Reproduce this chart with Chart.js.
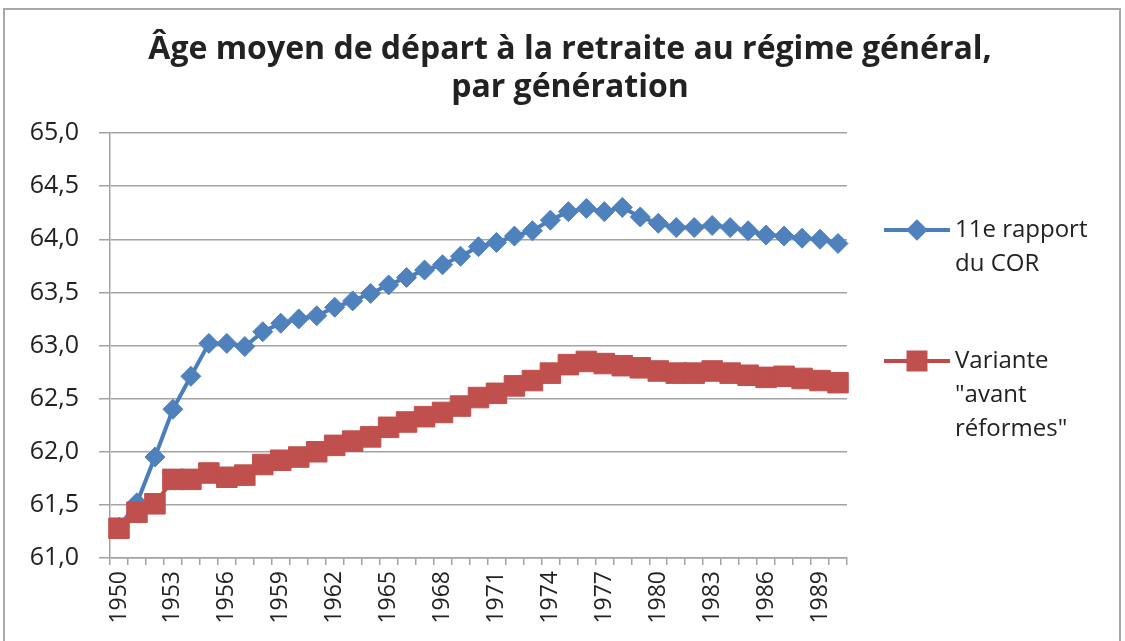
<!DOCTYPE html>
<html>
<head>
<meta charset="utf-8">
<script src="https://cdn.jsdelivr.net/npm/chart.js@4/dist/chart.umd.min.js"></script>
<style>
  html, body { margin:0; padding:0; background:#fff; }
  canvas { display:block; }
</style>
</head>
<body>
<canvas id="ageChart" width="1125" height="641"></canvas>
<script>
// Data
const years = [];
for (let y = 1950; y <= 1990; y++) years.push(String(y));

const corValues = [61.29,61.52,61.95,62.40,62.71,63.02,63.02,62.99,63.13,63.21,
  63.25,63.28,63.36,63.42,63.49,63.57,63.64,63.71,63.76,63.84,
  63.93,63.97,64.03,64.08,64.18,64.26,64.29,64.26,64.30,64.21,
  64.15,64.11,64.11,64.13,64.11,64.08,64.04,64.03,64.01,64.00,63.96];

const avantValues = [61.28,61.43,61.51,61.74,61.74,61.80,61.76,61.78,61.88,61.92,
  61.95,62.00,62.06,62.10,62.14,62.23,62.28,62.33,62.37,62.43,
  62.51,62.55,62.62,62.67,62.74,62.82,62.85,62.83,62.81,62.79,
  62.76,62.74,62.74,62.76,62.74,62.72,62.70,62.71,62.69,62.67,62.65];

const titleLines = ["Âge moyen de départ à la retraite au régime général,", "par génération"];
const corLabel = ["11e rapport", "du COR"];
const avantLabel = ["Variante", "\"avant", "réformes\""];

const gridGray = "#a3a3a3";
const textCol = "#222";

// title + legend drawn by hand: title centred on the whole frame, legend labels wrap
const sideLegend = {
  id: "sideLegend",
  afterDraw(chart){
    const ctx = chart.ctx;
    ctx.save();
    ctx.fillStyle = textCol;
    ctx.font = "bold 32px 'Open Sans'";
    ctx.textAlign = "center";
    ctx.textBaseline = "middle";
    titleLines.forEach((t, i) => ctx.fillText(t, 570, 50 + i * 38));

    const entries = [
      {ds: chart.data.datasets[0], y: 230},
      {ds: chart.data.datasets[1], y: 361}
    ];
    ctx.textAlign = "left";
    entries.forEach(e => {
      ctx.strokeStyle = e.ds.borderColor;
      ctx.lineWidth = 4;
      ctx.beginPath();
      ctx.moveTo(884, e.y);
      ctx.lineTo(950, e.y);
      ctx.stroke();
      ctx.fillStyle = e.ds.pointBackgroundColor;
      ctx.strokeStyle = e.ds.pointBackgroundColor;
      Chart.helpers.drawPoint(ctx, {
        pointStyle: e.ds.pointStyle,
        radius: e.ds.pointStyle === "rect" ? 12 : 8,
        rotation: 0,
        borderWidth: 1
      }, 917, e.y);
      ctx.fillStyle = textCol;
      ctx.font = "24px 'Open Sans'";
      e.ds.label.forEach((line, i) => ctx.fillText(line, 955, e.y + i * 34));
    });
    // outer frame
    ctx.strokeStyle = "#a8a8a8";
    ctx.lineWidth = 2;
    ctx.strokeRect(4, 9, 1116, 660);
    ctx.restore();
  }
};

new Chart(document.getElementById("ageChart"), {
  type: "line",
  data: {
    labels: years,
    datasets: [
      {label: corLabel, data: corValues, borderColor: "#4A7EBB", borderWidth: 4,
       pointStyle: "rectRot", pointRadius: 10, pointBackgroundColor: "#4F81BD",
       pointBorderColor: "#4F81BD", pointBorderWidth: 1, tension: 0, order: 1},
      {label: avantLabel, data: avantValues, borderColor: "#BE4B48", borderWidth: 4,
       pointStyle: "rect", pointRadius: 14.5, pointBackgroundColor: "#C0504D",
       pointBorderColor: "#C0504D", pointBorderWidth: 1, tension: 0, order: 0}
    ]
  },
  options: {
    responsive: false,
    animation: false,
    layout: {padding: {left: 10, right: 278, top: 133, bottom: 0}},
    plugins: {
      legend: {display: false},
      tooltip: {enabled: false},
      title: {display: false}
    },
    scales: {
      x: {
        offset: true,
        grid: {display: true, offset: true, drawOnChartArea: false, drawTicks: true,
               tickLength: 7, color: gridGray, lineWidth: 1.5},
        border: {color: gridGray, width: 1.5},
        ticks: {
          autoSkip: false, maxRotation: 90, minRotation: 90, padding: 6,
          color: textCol, font: {family: "'Open Sans'", size: 23},
          callback: function(v, i){ return i % 3 === 0 ? this.getLabelForValue(v) : ""; }
        },
        afterFit: s => { s.height = 83; }
      },
      y: {
        min: 61, max: 65,
        grid: {color: gridGray, lineWidth: 1.5, drawTicks: true, tickLength: 11},
        border: {color: gridGray, width: 1.5},
        ticks: {
          stepSize: 0.5, padding: 20, color: textCol,
          font: {family: "'Open Sans'", size: 25},
          callback: v => v.toFixed(1).replace(".", ",")
        },
        afterFit: s => { s.width = 100; }
      }
    }
  },
  plugins: [sideLegend]
});
</script>
</body>
</html>
